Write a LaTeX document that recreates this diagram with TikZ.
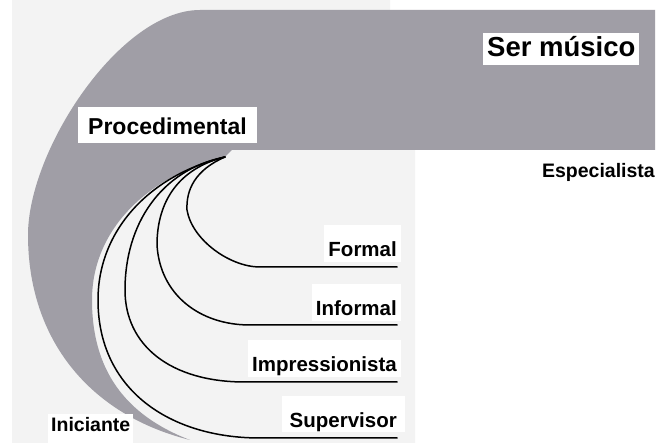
\documentclass[tikz,border=0pt]{standalone}
\usepackage{fontspec}
\setmainfont{Liberation Sans}
\definecolor{paper}{RGB}{243,243,243}
\definecolor{bandgray}{RGB}{160,158,166}
\newcommand{\fsz}[1]{\fontsize{#1}{#1}\selectfont\bfseries}
\begin{document}
\begin{tikzpicture}[x=1pt,y=-1pt,
  curve/.style={draw=black,line width=1.5pt,line cap=round,line join=round},
  lbl/.style={fill=white,inner xsep=4pt,inner ysep=0pt,text height=32pt,text depth=5pt,font=\fsz{20.5}},
  big/.style={fill=white,inner ysep=2pt}]
\useasboundingbox (0,0) rectangle (659,443);
\fill[white] (0,0) rectangle (659,443);
\fill[paper] (12,0) -- (390,0) -- (390,150) -- (415,150) -- (415,443) -- (12,443) -- cycle;
% stippled band
\fill[bandgray] (655,10) -- (200,10)
  .. controls (120,10) and (28,150) .. (28,235)
  .. controls (28,340) and (90,415) .. (190,440)
  .. controls (125,415) and (92,370) .. (92,300)
  .. controls (92,228) and (150,175) .. (225,157)
  -- (232,150) -- (655,150) -- cycle;
% coordinates
\coordinate (tip) at (225,157);
\coordinate (e1) at (397,267);
\coordinate (e2) at (397,325);
\coordinate (e3) at (397,382);
\coordinate (e4) at (397,438);
% labels
\node[lbl,anchor=base east] (formal) at (401,257) {Formal};
\node[lbl,anchor=base east] (informal) at (401,316) {Informal};
\node[lbl,anchor=base east] (impress) at (401,372) {Impressionista};
\node[lbl,anchor=base east,inner xsep=8pt,text depth=4pt] (superv) at (405,428) {Supervisor};
% curves
\draw[curve] (tip) .. controls (195,170) and (186,190) .. (187,210)
  .. controls (192,240) and (230,267) .. (260,267) -- (e1);
\draw[curve] (tip) .. controls (180,168) and (157,200) .. (157,245)
  .. controls (160,295) and (200,325) .. (250,325) -- (e2);
\draw[curve] (tip) .. controls (160,170) and (125,225) .. (125,290)
  .. controls (125,345) and (170,382) .. (245,382) -- (e3);
\draw[curve] (tip) .. controls (150,175) and (98,230) .. (98,300)
  .. controls (98,390) and (170,438) .. (260,438) -- (e4);
% other labels
\node[big,anchor=base west,inner xsep=4pt,text height=22pt,text depth=6pt,font=\fsz{27.5}] (ser) at (483,57) {Ser músico};
\node[big,anchor=base west,inner xsep=10pt,text height=26pt,text depth=6pt,font=\fsz{23}] (proc) at (78,135) {Procedimental};
\node[anchor=base east,inner sep=0pt,font=\fsz{19.5}] (esp) at (655,178) {Especialista};
\node[fill=white,anchor=base west,inner xsep=3pt,inner ysep=0pt,text height=18pt,text depth=11pt,font=\fsz{19.5}] (inic) at (48,432) {Iniciante};
\end{tikzpicture}
\end{document}
